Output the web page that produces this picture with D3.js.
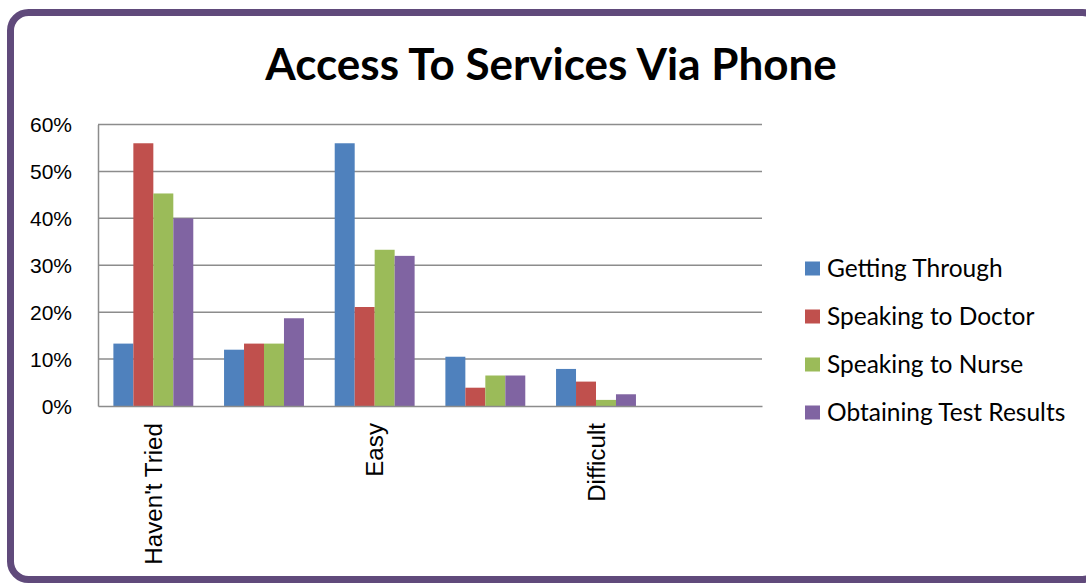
<!DOCTYPE html>
<html>
<head>
  <meta charset="utf-8">
  <title>Access To Services Via Phone</title>
  <script src="https://cdnjs.cloudflare.com/ajax/libs/d3/7.8.5/d3.min.js"></script>
  <style>
    body {
      margin: 0;
      background: #fff;
      font-family: Lato, "Open Sans", sans-serif;
    }
    .grid line {
      stroke: #8c8c8c;
      stroke-width: 1.5px;
    }
    .axis text {
      fill: #000;
      font-family: "Liberation Sans", Arial, sans-serif;
    }
    .y-axis text {
      font-size: 21px;
    }
    .x-axis text {
      font-size: 24.2px;
    }
    .legend text {
      font-size: 24.5px;
      fill: #000;
    }
  </style>
</head>
<body>
  <svg id="chart" width="1086" height="585"></svg>

  <script>
    // Chart data
    const categories = ["Haven't Tried", "", "Easy", "", "Difficult", ""];
    const series = ["Getting Through", "Speaking to Doctor", "Speaking to Nurse", "Obtaining Test Results"];
    const colors = ["#4f81bd", "#c0504d", "#9bbb59", "#8064a2"];

    const gettingThrough   = [0.133, 0.12, 0.56, 0.105, 0.079, null];
    const speakingDoctor   = [0.56, 0.133, 0.211, 0.039, 0.052, null];
    const speakingNurse    = [0.453, 0.133, 0.333, 0.065, 0.013, null];
    const obtainingResults = [0.40, 0.187, 0.32, 0.065, 0.025, null];
    const values = [gettingThrough, speakingDoctor, speakingNurse, obtainingResults];

    const yTicks = [0, 0.1, 0.2, 0.3, 0.4, 0.5, 0.6];

    const svg = d3.select("#chart");

    // Outer frame
    svg.append("rect")
      .attr("x", 10.5)
      .attr("y", 12.5)
      .attr("width", 1090)
      .attr("height", 567)
      .attr("rx", 18)
      .attr("fill", "#fff")
      .attr("stroke", "#604a7b")
      .attr("stroke-width", 7);

    // Title
    svg.append("text")
      .attr("x", 551)
      .attr("y", 80)
      .attr("text-anchor", "middle")
      .style("font-size", "44px")
      .style("font-weight", "bold")
      .text("Access To Services Via Phone");

    const plotLeft = 98, plotRight = 762, plotTop = 124.5, plotBottom = 406;

    const x0 = d3.scaleBand()
      .domain(d3.range(categories.length))
      .range([plotLeft, plotRight])
      .padding(0);

    const x1 = d3.scaleBand()
      .domain(d3.range(series.length))
      .range([0, x0.bandwidth()])
      .paddingInner(0)
      .paddingOuter(0.77);

    const y = d3.scaleLinear()
      .domain([0, 0.6])
      .range([plotBottom, plotTop]);

    // Gridlines
    svg.append("g")
      .attr("class", "grid")
      .selectAll("line")
      .data(yTicks.slice(1))
      .join("line")
      .attr("x1", plotLeft)
      .attr("x2", plotRight)
      .attr("y1", d => y(d))
      .attr("y2", d => y(d));

    // Y axis
    const yAxis = svg.append("g")
      .attr("class", "axis y-axis")
      .attr("transform", `translate(${plotLeft},0)`)
      .call(d3.axisLeft(y).tickValues(yTicks).tickFormat(d3.format(".0%")).tickSize(0).tickPadding(26));
    yAxis.select(".domain").attr("stroke", "#8c8c8c").attr("stroke-width", 1.5);
    yAxis.selectAll("text").attr("dy", "0.35em");

    // Bars
    const groups = svg.append("g")
      .selectAll("g")
      .data(categories.map((c, i) => i))
      .join("g")
      .attr("transform", i => `translate(${x0(i)},0)`);

    groups.selectAll("rect")
      .data(i => series.map((s, k) => ({ k: k, v: values[k][i] })).filter(d => d.v != null))
      .join("rect")
      .attr("x", d => x1(d.k))
      .attr("width", x1.bandwidth())
      .attr("y", d => y(d.v))
      .attr("height", d => y(0) - y(d.v))
      .attr("fill", d => colors[d.k]);

    // X axis
    const xAxis = svg.append("g")
      .attr("class", "axis x-axis")
      .attr("transform", `translate(0,${plotBottom})`)
      .call(d3.axisBottom(x0).tickSize(0).tickFormat(i => categories[i]));
    xAxis.select(".domain").attr("stroke", "#8c8c8c").attr("stroke-width", 1.5);
    xAxis.selectAll("text")
      .attr("transform", "rotate(-90)")
      .attr("text-anchor", "end")
      .attr("x", -17)
      .attr("y", 0)
      .attr("dy", "0.36em");

    // Legend
    const legend = svg.append("g")
      .attr("class", "legend")
      .selectAll("g")
      .data(series)
      .join("g")
      .attr("transform", (d, i) => `translate(805,${268.5 + i * 48})`);

    legend.append("rect")
      .attr("x", 0)
      .attr("y", -7)
      .attr("width", 15)
      .attr("height", 14)
      .attr("fill", (d, i) => colors[i]);

    legend.append("text")
      .attr("x", 22)
      .attr("dy", "0.35em")
      .text(d => d);
  </script>
</body>
</html>
